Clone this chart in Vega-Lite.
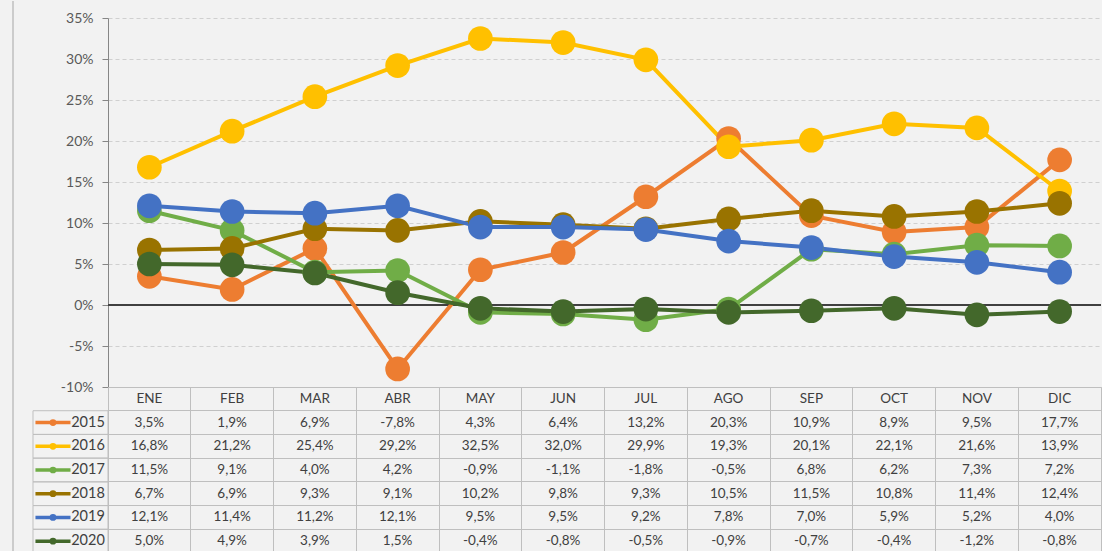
{
  "$schema": "https://vega.github.io/schema/vega-lite/v6.json",
  "background": "#f2f2f2",
  "padding": {"left": 12, "top": 0, "right": 0, "bottom": 0},
  "config": {
    "view": {"stroke": null},
    "font": "Lato",
    "locale": {"number": {"decimal": ",", "thousands": ".", "grouping": [3], "currency": ["", " €"], "minus": "-"}}
  },
  "datasets": {
    "d": [
      {"m":"ENE","yr":"2015","v":0.035},{"m":"FEB","yr":"2015","v":0.019},{"m":"MAR","yr":"2015","v":0.069},{"m":"ABR","yr":"2015","v":-0.078},{"m":"MAY","yr":"2015","v":0.043},{"m":"JUN","yr":"2015","v":0.064},{"m":"JUL","yr":"2015","v":0.132},{"m":"AGO","yr":"2015","v":0.203},{"m":"SEP","yr":"2015","v":0.109},{"m":"OCT","yr":"2015","v":0.089},{"m":"NOV","yr":"2015","v":0.095},{"m":"DIC","yr":"2015","v":0.177},
      {"m":"ENE","yr":"2016","v":0.168},{"m":"FEB","yr":"2016","v":0.212},{"m":"MAR","yr":"2016","v":0.254},{"m":"ABR","yr":"2016","v":0.292},{"m":"MAY","yr":"2016","v":0.325},{"m":"JUN","yr":"2016","v":0.320},{"m":"JUL","yr":"2016","v":0.299},{"m":"AGO","yr":"2016","v":0.193},{"m":"SEP","yr":"2016","v":0.201},{"m":"OCT","yr":"2016","v":0.221},{"m":"NOV","yr":"2016","v":0.216},{"m":"DIC","yr":"2016","v":0.139},
      {"m":"ENE","yr":"2017","v":0.115},{"m":"FEB","yr":"2017","v":0.091},{"m":"MAR","yr":"2017","v":0.040},{"m":"ABR","yr":"2017","v":0.042},{"m":"MAY","yr":"2017","v":-0.009},{"m":"JUN","yr":"2017","v":-0.011},{"m":"JUL","yr":"2017","v":-0.018},{"m":"AGO","yr":"2017","v":-0.005},{"m":"SEP","yr":"2017","v":0.068},{"m":"OCT","yr":"2017","v":0.062},{"m":"NOV","yr":"2017","v":0.073},{"m":"DIC","yr":"2017","v":0.072},
      {"m":"ENE","yr":"2018","v":0.067},{"m":"FEB","yr":"2018","v":0.069},{"m":"MAR","yr":"2018","v":0.093},{"m":"ABR","yr":"2018","v":0.091},{"m":"MAY","yr":"2018","v":0.102},{"m":"JUN","yr":"2018","v":0.098},{"m":"JUL","yr":"2018","v":0.093},{"m":"AGO","yr":"2018","v":0.105},{"m":"SEP","yr":"2018","v":0.115},{"m":"OCT","yr":"2018","v":0.108},{"m":"NOV","yr":"2018","v":0.114},{"m":"DIC","yr":"2018","v":0.124},
      {"m":"ENE","yr":"2019","v":0.121},{"m":"FEB","yr":"2019","v":0.114},{"m":"MAR","yr":"2019","v":0.112},{"m":"ABR","yr":"2019","v":0.121},{"m":"MAY","yr":"2019","v":0.095},{"m":"JUN","yr":"2019","v":0.095},{"m":"JUL","yr":"2019","v":0.092},{"m":"AGO","yr":"2019","v":0.078},{"m":"SEP","yr":"2019","v":0.070},{"m":"OCT","yr":"2019","v":0.059},{"m":"NOV","yr":"2019","v":0.052},{"m":"DIC","yr":"2019","v":0.040},
      {"m":"ENE","yr":"2020","v":0.050},{"m":"FEB","yr":"2020","v":0.049},{"m":"MAR","yr":"2020","v":0.039},{"m":"ABR","yr":"2020","v":0.015},{"m":"MAY","yr":"2020","v":-0.004},{"m":"JUN","yr":"2020","v":-0.008},{"m":"JUL","yr":"2020","v":-0.005},{"m":"AGO","yr":"2020","v":-0.009},{"m":"SEP","yr":"2020","v":-0.007},{"m":"OCT","yr":"2020","v":-0.004},{"m":"NOV","yr":"2020","v":-0.012},{"m":"DIC","yr":"2020","v":-0.008}
    ]
  },
  "spacing": 0,
  "bounds": "flush",
  "columns": 3,
  "concat": [
    {
      "width": 20,
      "height": 386,
      "data": {"values": [{}]},
      "mark": {"type": "rule", "color": "#bfbfbf", "strokeWidth": 1.5},
      "encoding": {"x": {"datum": 0, "type": "quantitative", "scale": {"domain": [0, 1]}, "axis": null}}
    },
    {
      "width": 75,
      "height": 386,
      "data": {"values": [{}]},
      "mark": {"type": "text", "text": ""},
      "encoding": {}
    },
    {
      "width": 993,
      "height": 386,
      "data": {"name": "d"},
      "encoding": {
        "x": {"field": "m", "type": "ordinal", "sort": ["ENE","FEB","MAR","ABR","MAY","JUN","JUL","AGO","SEP","OCT","NOV","DIC"], "scale": {"type": "point", "padding": 0.5}, "axis": null},
        "y": {
          "field": "v", "type": "quantitative",
          "scale": {"domain": [-0.1, 0.35], "range": [386, 17], "nice": false, "zero": false},
          "axis": {
            "values": [-0.1, -0.05, 0, 0.05, 0.1, 0.15, 0.2, 0.25, 0.3, 0.35],
            "format": ".0%", "title": null, "grid": true, "gridDash": [4, 3], "gridColor": "#d0d0d0",
            "domainColor": "#868686", "tickColor": "#868686", "tickSize": 6, "labelPadding": 9,
            "labelColor": "#595959", "labelFontSize": 14, "labelFont": "Lato"
          }
        },
        "color": {"field": "yr", "type": "nominal", "scale": {"domain": ["2015","2016","2017","2018","2019","2020"], "range": ["#ED7D31","#FFC000","#70AD47","#997300","#4472C4","#43682B"]}, "legend": null}
      },
      "layer": [
        {"mark": {"type": "rule", "color": "#404040", "strokeWidth": 2}, "encoding": {"x": null, "color": null, "y": {"datum": 0, "type": "quantitative"}}},
        {"mark": {"type": "line", "strokeWidth": 4}},
        {"mark": {"type": "circle", "size": 610, "opacity": 1}}
      ]
    },
    {
      "width": 20,
      "height": 166,
      "data": {"values": [{}]},
      "mark": {"type": "rule", "color": "#bfbfbf", "strokeWidth": 1.5},
      "encoding": {"x": {"datum": 0, "type": "quantitative", "scale": {"domain": [0, 1]}, "axis": null}}
    },
    {
      "width": 75,
      "height": 166,
      "data": {"name": "d"},
      "transform": [{"filter": "datum.m == 'ENE'"}],
      "encoding": {
        "y": {"field": "yr", "type": "ordinal", "scale": {"type": "band", "domain": ["hdr","2015","2016","2017","2018","2019","2020"], "paddingInner": 0, "paddingOuter": 0}, "axis": null}
      },
      "layer": [
        {"mark": {"type": "bar", "fill": "transparent", "stroke": "#bfbfbf", "strokeWidth": 1}},
        {"mark": {"type": "bar", "height": 3.5},
         "encoding": {
           "x": {"datum": "s", "type": "nominal", "scale": {"type": "band", "domain": ["s", "t"], "paddingInner": 0, "paddingOuter": 0.07}, "axis": null},
           "color": {"field": "yr", "type": "nominal", "scale": {"domain": ["2015","2016","2017","2018","2019","2020"], "range": ["#ED7D31","#FFC000","#70AD47","#997300","#4472C4","#43682B"]}, "legend": null}}},
        {"mark": {"type": "circle", "size": 45, "opacity": 1},
         "encoding": {"x": {"datum": "s", "type": "nominal"}, "color": {"field": "yr", "type": "nominal", "legend": null}}},
        {"mark": {"type": "text", "fontSize": 14.5, "color": "#404040", "align": "center", "baseline": "middle"},
         "encoding": {"x": {"datum": "t", "type": "nominal"}, "text": {"field": "yr"}}}
      ]
    },
    {
      "width": 993,
      "height": 166,
      "view": {"stroke": "#bfbfbf"},
      "data": {"name": "d"},
      "encoding": {
        "x": {"field": "m", "type": "ordinal", "sort": ["ENE","FEB","MAR","ABR","MAY","JUN","JUL","AGO","SEP","OCT","NOV","DIC"],
          "scale": {"type": "band", "paddingInner": 0, "paddingOuter": 0},
          "axis": {"grid": true, "bandPosition": 0, "labels": false, "ticks": false, "domain": false, "title": null, "gridColor": "#bfbfbf"}},
        "y": {"field": "yr", "type": "ordinal", "scale": {"type": "band", "domain": ["hdr","2015","2016","2017","2018","2019","2020"], "paddingInner": 0, "paddingOuter": 0},
          "axis": {"grid": true, "bandPosition": 0, "labels": false, "ticks": false, "domain": false, "title": null, "gridColor": "#bfbfbf"}}
      },
      "layer": [
        {"mark": {"type": "text", "fontSize": 13.5, "color": "#404040", "baseline": "middle"},
         "encoding": {"text": {"field": "v", "type": "quantitative", "format": ".1%"}}},
        {"transform": [{"filter": "datum.yr == '2015'"}],
         "mark": {"type": "text", "fontSize": 13.5, "color": "#404040", "baseline": "middle"},
         "encoding": {"y": {"datum": "hdr", "type": "ordinal"}, "text": {"field": "m"}}}
      ]
    }
  ]
}
